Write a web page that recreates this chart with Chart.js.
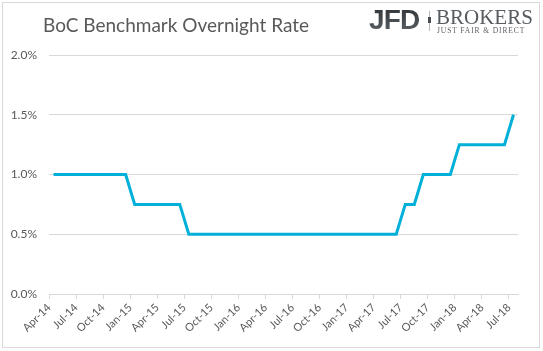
<!DOCTYPE html>
<html>
<head>
<meta charset="utf-8">
<script src="https://cdn.jsdelivr.net/npm/chart.js@4"></script>
<style>
    html, body { margin: 0; padding: 0; background: #fff; overflow: hidden; }
    #wrap { position: relative; width: 543px; height: 351px; }
    #frame { position: absolute; left: 2px; top: 2px; width: 538px; height: 346px; border: 1px solid #d9d9d9; box-sizing: border-box; }
    #title { position: absolute; left: 43px; top: 13px; font: 19px Lato, sans-serif; color: #595959; white-space: nowrap; }
    #jfd { position: absolute; left: 369px; top: 4px; font: bold 28px "Liberation Sans", sans-serif; letter-spacing: -0.8px;
           background: linear-gradient(#2c3034, #60666b); -webkit-background-clip: text; background-clip: text; color: transparent; }
    #sep { position: absolute; left: 429px; top: 11px; width: 1px; height: 20px; background: #b5b8bb; }
    #sep-dot { position: absolute; left: 428px; top: 17px; width: 3px; height: 6px; background: #4a4e52; }
    #brokers { position: absolute; left: 436px; top: 5px; font: 21px "Liberation Serif", serif; color: #575c61; }
    #tagline { position: absolute; left: 437px; top: 26px; font: 7.5px "Liberation Serif", serif; letter-spacing: 0.9px; color: #5d6166; white-space: nowrap; }
    #chart-box { position: absolute; left: 0; top: 0; width: 543px; height: 351px; }
</style>
</head>
<body>
<div id="wrap">
    <div id="frame"></div>
    <div id="chart-box"><canvas id="rateChart"></canvas></div>
    <div id="title">BoC Benchmark Overnight Rate</div>
    <div id="jfd">JFD</div>
    <div id="sep"></div>
    <div id="sep-dot"></div>
    <div id="brokers">BROKERS</div>
    <div id="tagline">JUST FAIR &amp; DIRECT</div>
</div>
<script>
// monthly, Apr-14 .. Jul-18
const months = [
    'Apr-14', 'May-14', 'Jun-14', 'Jul-14', 'Aug-14', 'Sep-14', 'Oct-14', 'Nov-14', 'Dec-14',
    'Jan-15', 'Feb-15', 'Mar-15', 'Apr-15', 'May-15', 'Jun-15', 'Jul-15', 'Aug-15', 'Sep-15',
    'Oct-15', 'Nov-15', 'Dec-15', 'Jan-16', 'Feb-16', 'Mar-16', 'Apr-16', 'May-16', 'Jun-16',
    'Jul-16', 'Aug-16', 'Sep-16', 'Oct-16', 'Nov-16', 'Dec-16', 'Jan-17', 'Feb-17', 'Mar-17',
    'Apr-17', 'May-17', 'Jun-17', 'Jul-17', 'Aug-17', 'Sep-17', 'Oct-17', 'Nov-17', 'Dec-17',
    'Jan-18', 'Feb-18', 'Mar-18', 'Apr-18', 'May-18', 'Jun-18', 'Jul-18'
];

const rates = [
    1.0, 1.0, 1.0, 1.0, 1.0, 1.0, 1.0, 1.0, 1.0,
    0.75, 0.75, 0.75, 0.75, 0.75, 0.75, 0.5, 0.5, 0.5,
    0.5, 0.5, 0.5, 0.5, 0.5, 0.5, 0.5, 0.5, 0.5,
    0.5, 0.5, 0.5, 0.5, 0.5, 0.5, 0.5, 0.5, 0.5,
    0.5, 0.5, 0.5, 0.75, 0.75, 1.0, 1.0, 1.0, 1.0,
    1.25, 1.25, 1.25, 1.25, 1.25, 1.25, 1.5
];

const yTicks = [0, 0.5, 1.0, 1.5, 2.0];
const labelEvery = 3;

const gridGray = '#d9d9d9';
const textGray = '#595959';

// each month sits in the middle of its slot, ticks on the slot edges (like Excel date axis)
const points = rates.map((r, i) => ({ x: i + 0.5, y: r }));

const ctx = document.getElementById('rateChart').getContext('2d');
new Chart(ctx, {
    type: 'line',
    data: {
        datasets: [{
            data: points,
            borderColor: '#00b0d8',
            borderWidth: 3,
            pointRadius: 0,
            tension: 0,
            fill: false
        }]
    },
    options: {
        responsive: true,
        maintainAspectRatio: false,
        animation: false,
        layout: { padding: { left: 0, right: 25, top: 55, bottom: 0 } },
        plugins: { legend: { display: false }, tooltip: { enabled: false } },
        scales: {
            x: {
                type: 'linear',
                min: 0,
                max: months.length,
                afterBuildTicks: axis => {
                    axis.ticks = months.map((m, i) => ({ value: i })).filter(t => t.value % labelEvery === 0);
                },
                afterFit: axis => { axis.height = 57; },
                grid: { drawOnChartArea: false, drawTicks: true, tickLength: 5, color: gridGray },
                border: { display: true, color: gridGray },
                ticks: {
                    autoSkip: false,
                    minRotation: 45,
                    maxRotation: 45,
                    padding: 2,
                    color: textGray,
                    font: { family: 'Lato, sans-serif', size: 11 },
                    callback: value => months[value]
                }
            },
            y: {
                min: 0,
                max: 2,
                afterBuildTicks: axis => {
                    axis.ticks = yTicks.map(v => ({ value: v }));
                },
                afterFit: axis => { axis.width = 49; },
                grid: { color: gridGray, drawTicks: false },
                border: { display: false },
                ticks: {
                    padding: 12,
                    color: textGray,
                    font: { family: 'Lato, sans-serif', size: 12 },
                    callback: value => value.toFixed(1) + '%'
                }
            }
        }
    }
});
</script>
</body>
</html>
